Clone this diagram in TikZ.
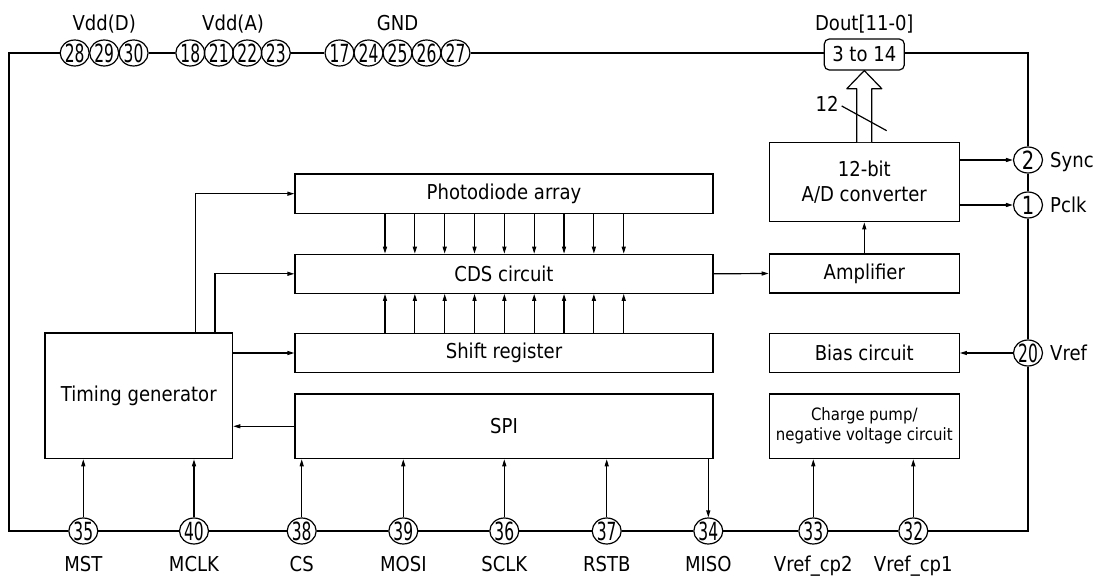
\documentclass[tikz,border=0pt]{standalone}
\usepackage{fontspec}
\setmainfont{DejaVu Sans}[FakeStretch=0.88]
\newfontfamily\pinfont{DejaVu Sans}[FakeStretch=0.62]
\newfontfamily\pinfontw{DejaVu Sans}[FakeStretch=0.78]
\usetikzlibrary{arrows.meta,calc,shapes.geometric}
\newcommand\pinnum[1]{\makebox[0pt]{\smash{\pinfont\fontsize{25}{25}\selectfont\raisebox{-0.365em}{#1}}}}
\newcommand\pinnumw[1]{\makebox[0pt]{\smash{\pinfontw\fontsize{25}{25}\selectfont\raisebox{-0.365em}{#1}}}}
\tikzset{
  box/.style={draw, line width=1.2pt, rectangle, inner sep=0pt, align=center},
  pinc/.style={draw, ellipse, line width=1.2pt, minimum width=29pt, minimum height=26pt, inner sep=0pt},
  arr/.style={-{Triangle[length=7pt,width=4pt]}, line width=1.2pt},
  wire/.style={line width=1.2pt},
  lbl/.style={anchor=base, inner sep=0pt},
  rlbl/.style={anchor=base west, inner sep=0pt},
  small/.style={font=\fontsize{17}{20}\selectfont}
}
\begin{document}
\begin{tikzpicture}[x=1pt,y=-1pt,font=\fontsize{20.5}{25}\selectfont]
\useasboundingbox (0,0) rectangle (1095,577);
% frame corners
\coordinate (tl) at (9,53);
\coordinate (tr) at (1028,53);
\coordinate (br) at (1028,531);
\coordinate (bl) at (9,531);
\coordinate (ytop) at (0,31);
% blocks
\node[box, minimum width=418pt, minimum height=39.3pt] (pd) at (504,193.7) {Photodiode array};
\node[box, minimum width=418pt, minimum height=39pt] (cds) at (504,273.8) {CDS circuit};
\node[box, minimum width=418pt, minimum height=38.6pt] (sr) at (504,353) {Shift register};
\node[box, minimum width=418pt, minimum height=64.7pt] (spi) at (504,426.3) {SPI};
\node[box, minimum width=187.7pt, minimum height=125.7pt] (tg) at (138.8,395.8) {Timing generator};
\node[box, minimum width=190pt, minimum height=79pt] (adc) at (864.3,182.2) {12-bit\\A/D converter};
\node[box, minimum width=190pt, minimum height=39pt] (amp) at (864.3,273.5) {Amplifier};
\node[box, minimum width=190pt, minimum height=38.6pt] (bias) at (864.3,353) {Bias circuit};
\node[box, small, minimum width=190pt, minimum height=64.7pt] (cp) at (864.3,426.3) {Charge pump/\\negative voltage circuit};
\node[draw, line width=1.2pt, rounded corners=5pt, minimum width=80pt, minimum height=31pt, inner sep=0pt] (dout) at (864.3,54.5) {3 to 14};
% top pins
\foreach \n/\x in {28/74.7,29/104.2,30/133.6,18/190.3,21/218.8,22/247.3,23/275.8,17/339.5,24/368.5,25/397.5,26/426.5,27/455.5}
  \node[pinc] (p\n) at (\x,53) {\pinnum{\n}};
% right pins
\node[pinc] (p2) at (1028,160) {\pinnumw{2}};
\node[pinc] (p1) at (1028,205) {\pinnumw{1}};
\node[pinc] (p20) at (1028,353) {\pinnum{20}};
% bottom pins
\foreach \n/\x in {35/83.3,40/194,38/301.7,39/403.3,36/504.3,37/606.7,34/708.3,33/813.3,32/913.3}
  \node[pinc] (p\n) at (\x,531) {\pinnum{\n}};
% labels
\coordinate (vam) at ($(p21.center)!0.5!(p22.center)$);
\node[lbl] (lvd) at (p29.center |- ytop) {Vdd(D)};
\node[lbl] (lva) at (vam |- ytop) {Vdd(A)};
\node[lbl] (lgnd) at (p25.center |- ytop) {GND};
\node[lbl] (ldout) at (dout.center |- ytop) {Dout[11-0]};
\node[rlbl] (lsync) at ($(p2.center)+(22,7.5)$) {Sync};
\node[rlbl] (lpclk) at ($(p1.center)+(22,7.5)$) {Pclk};
\node[rlbl] (lvref) at ($(p20.center)+(22,7.5)$) {Vref};
\foreach \n/\t in {35/MST,40/MCLK,38/CS,39/MOSI,36/SCLK,37/RSTB,34/MISO,33/Vref\_cp2,32/Vref\_cp1}
  \node[lbl] (l\n) at ($(p\n.center)+(0,40)$) {\t};
% frame wires
\draw[wire] (p28.west) -- (tl) -- (bl) -- (p35.west);
\draw[wire] (p30.east) -- (p18.west);
\draw[wire] (p23.east) -- (p17.west);
\draw[wire] (p27.east) -- (dout.west |- tl);
\draw[wire] (dout.east |- tr) -- (tr) -- (p2.north);
\draw[wire] (p2.south) -- (p1.north);
\draw[wire] (p1.south) -- (p20.north);
\draw[wire] (p20.south) -- (br) -- (p32.east);
\draw[wire] (p32.west) -- (p33.east);
\draw[wire] (p33.west) -- (p34.east);
\draw[wire] (p34.west) -- (p37.east);
\draw[wire] (p37.west) -- (p36.east);
\draw[wire] (p36.west) -- (p39.east);
\draw[wire] (p39.west) -- (p38.east);
\draw[wire] (p38.west) -- (p40.east);
\draw[wire] (p40.west) -- (p35.east);
% timing generator connections
\coordinate (tga) at (195.7,0);
\coordinate (tgb) at (215,0);
\draw[arr] (tg.north -| tga) |- (pd.west);
\draw[arr] (tg.north -| tgb) |- (cds.west);
\draw[arr] (sr.west -| tg.east) -- (sr.west);
\draw[arr] (spi.west) -- (spi.west -| tg.east);
% parallel arrows
\foreach \i in {0,...,8} {
  \coordinate (c\i) at ({385+29.84*\i},0);
  \draw[arr] (pd.south -| c\i) -- (cds.north -| c\i);
  \draw[arr] (sr.north -| c\i) -- (cds.south -| c\i);
}
% signal chain
\draw[arr] (cds.east) -- (amp.west);
\draw[arr] (amp.north) -- (adc.south);
\draw[arr] (adc.east |- p2.west) -- (p2.west);
\draw[arr] (adc.east |- p1.west) -- (p1.west);
\draw[arr] (p20.west) -- (bias.east);
% bus arrow
\draw[wire, fill=white, line join=round] ($(adc.north)+(-7.5,0)$) -- ++(0,-53.4) -- ++(-10,0) -- (dout.south) -- ($(adc.north)+(17.5,-53.4)$) -- ++(-10,0) -- ($(adc.north)+(7.5,0)$);
\draw[wire] (841.7,106) -- (886.7,130.7);
\node[inner sep=0pt] (n12) at (827,104) {12};
% bottom pin arrows
\draw[arr] (p35.north) -- (p35.north |- tg.south);
\draw[arr] (p40.north) -- (p40.north |- tg.south);
\draw[arr] (p38.north) -- (p38.north |- spi.south);
\draw[arr] (p39.north) -- (p39.north |- spi.south);
\draw[arr] (p36.north) -- (p36.north |- spi.south);
\draw[arr] (p37.north) -- (p37.north |- spi.south);
\draw[arr] (spi.south -| p34.north) -- (p34.north);
\draw[arr] (p33.north) -- (p33.north |- cp.south);
\draw[arr] (p32.north) -- (p32.north |- cp.south);
\end{tikzpicture}
\end{document}
